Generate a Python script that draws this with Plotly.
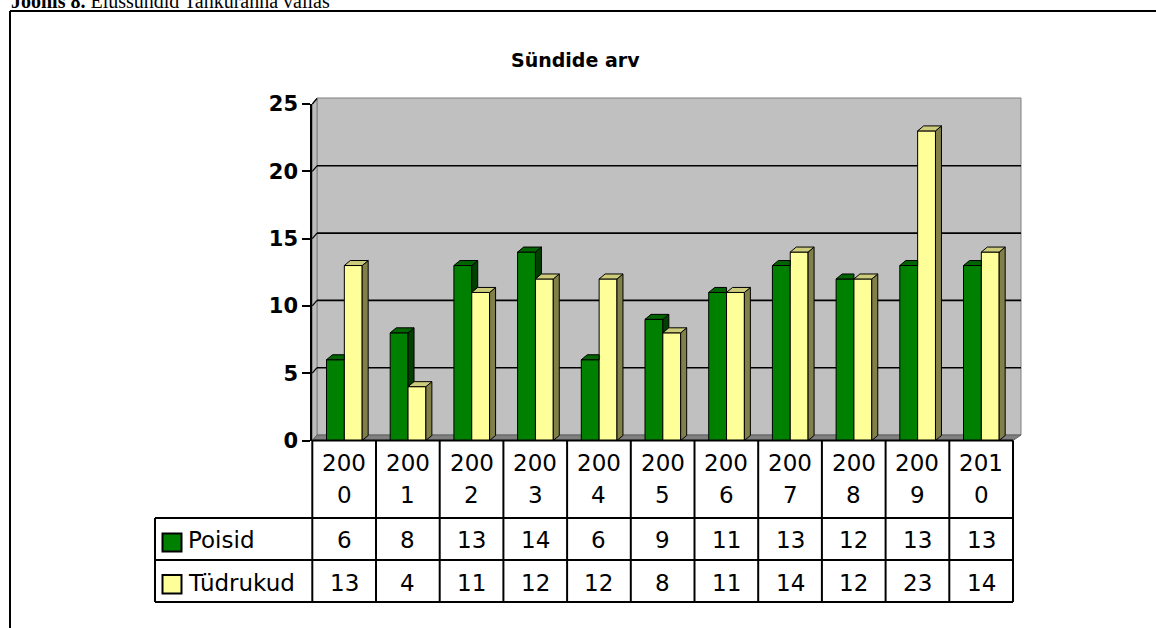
import plotly.graph_objects as go

# ---------------- data ----------------
years = ["2000", "2001", "2002", "2003", "2004", "2005", "2006", "2007", "2008", "2009", "2010"]
poisid = [6, 8, 13, 14, 6, 9, 11, 13, 12, 13, 13]
tudrukud = [13, 4, 11, 12, 12, 8, 11, 14, 12, 23, 14]
series_names = ["Poisid", "Tüdrukud"]
y_ticks = [0, 5, 10, 15, 20, 25]
chart_title = "Sündide arv"
caption_bold = "Joonis 8."
caption_rest = "Elussündid Tahkuranna vallas"

# ---------------- geometry (pixels) ----------------
W, H = 1156, 628
X0, X1 = 312.3, 1013.0          # front plane of category axis
Y0, Y1 = 440.5, 104.0           # pixel y of value 0 and value 25
YMAX = 25
n = len(years)
CW = (X1 - X0) / n
WALL_DX, WALL_DY = 4.7, 5.5      # back-wall offset
TABLE_LEFT = 155
ROW1, ROW2, ROW3 = 518, 560, 602

FONT = "DejaVu Sans"


def px(x):
    return x / W


def py(y):
    return 1 - y / H


def vpy(v):
    return Y0 + (Y1 - Y0) * v / YMAX


# bar layout in category units
BW = 0.28
G_OFF = -0.277
Y_OFF = G_OFF + BW
DX = 6 / CW
DY = 5 / ((Y0 - Y1) / YMAX)

C_GREEN, C_GREEN_TOP, C_GREEN_SIDE = "#008000", "#006400", "#004000"
C_YEL, C_YEL_TOP, C_YEL_SIDE = "#FFFF99", "#CCCC7A", "#808048"

fig = go.Figure()
xs = list(range(n))

fig.add_trace(go.Bar(x=xs, y=poisid, offset=G_OFF, width=BW, name=series_names[0],
                     marker=dict(color=C_GREEN, line=dict(color="black", width=1)),
                     showlegend=False, hoverinfo="skip"))
fig.add_trace(go.Bar(x=xs, y=tudrukud, offset=Y_OFF, width=BW, name=series_names[1],
                     marker=dict(color=C_YEL, line=dict(color="black", width=1)),
                     showlegend=False, hoverinfo="skip"))


def poly_trace(polys, color):
    px_, py_ = [], []
    for p in polys:
        for (a, b) in p:
            px_.append(a)
            py_.append(b)
        px_.append(p[0][0])
        py_.append(p[0][1])
        px_.append(None)
        py_.append(None)
    return go.Scatter(x=px_, y=py_, mode="lines", fill="toself", fillcolor=color,
                      line=dict(color="black", width=1), showlegend=False,
                      hoverinfo="skip", connectgaps=False)


g_top, g_side, y_top, y_side = [], [], [], []
for i in range(n):
    gv, yv = poisid[i], tudrukud[i]
    a = i + G_OFF
    b = a + BW
    c = b + BW
    if yv >= gv:
        g_top.append([(a, gv), (a + DX, gv + DY), (b, gv + DY), (b, gv)])
    else:
        g_top.append([(a, gv), (a + DX, gv + DY), (b + DX, gv + DY), (b, gv)])
        g_side.append([(b, yv), (b + DX, yv + DY), (b + DX, gv + DY), (b, gv)])
    y_top.append([(b, yv), (b + DX, yv + DY), (c + DX, yv + DY), (c, yv)])
    y_side.append([(c, 0), (c + DX, DY), (c + DX, yv + DY), (c, yv)])

fig.add_trace(poly_trace(g_side, C_GREEN_SIDE))
fig.add_trace(poly_trace(g_top, C_GREEN_TOP))
fig.add_trace(poly_trace(y_side, C_YEL_SIDE))
fig.add_trace(poly_trace(y_top, C_YEL_TOP))

shapes = []


def line(x0, y0, x1, y1, color="black", width=2, layer="above"):
    shapes.append(dict(type="line", xref="paper", yref="paper", x0=px(x0), y0=py(y0),
                       x1=px(x1), y1=py(y1), line=dict(color=color, width=width), layer=layer))


def path(pts, fill, color="#808080", width=1, layer="below"):
    d = "M " + " L ".join(f"{px(a):.5f},{py(b):.5f}" for a, b in pts) + " Z"
    shapes.append(dict(type="path", xref="paper", yref="paper", path=d, fillcolor=fill,
                       line=dict(color=color, width=width), layer=layer))


# back wall, left side wall, floor
WX0, WX1 = X0 + WALL_DX, 1021.0
WY_TOP, WY_BOT = Y1 - 6, Y0 - WALL_DY
path([(WX0, WY_TOP), (WX1, WY_TOP), (WX1, WY_BOT), (WX0, WY_BOT)], "#C0C0C0")
path([(X0, Y1), (WX0, WY_TOP), (WX0, WY_BOT), (X0, Y0)], "#BDBDBD")
path([(X0, Y0), (WX0, WY_BOT), (WX1, WY_BOT), (X1, Y0)], "#808080", color="#606060")

# gridlines on back wall + diagonal tick connectors
for v in y_ticks[1:-1]:
    yf = vpy(v)
    line(WX0, yf - WALL_DY, WX1, yf - WALL_DY, width=1.6, layer="below")
for v in y_ticks[1:]:
    yf = vpy(v)
    line(X0, yf, WX0, yf - WALL_DY, width=1.2, layer="below")

# data table
line(X0, Y0, X1, Y0)
for k in range(n + 1):
    line(X0 + k * CW, Y0, X0 + k * CW, ROW3)
line(TABLE_LEFT, ROW1, TABLE_LEFT, ROW3)
for r in (ROW1, ROW2, ROW3):
    line(TABLE_LEFT, r, X1, r)

# legend keys inside table
shapes.append(dict(type="rect", xref="paper", yref="paper", x0=px(162.5), x1=px(181.5),
                   y0=py(551.5), y1=py(533.5), fillcolor=C_GREEN,
                   line=dict(color="black", width=2), layer="above"))
shapes.append(dict(type="rect", xref="paper", yref="paper", x0=px(162.5), x1=px(181.5),
                   y0=py(593.5), y1=py(575), fillcolor=C_YEL,
                   line=dict(color="black", width=2), layer="above"))

# outer frame
line(10, 11, W + 5, 11)
line(10, 11, 10, H + 5)

annotations = []


def text(x, y, s, size=23, bold=False, xanchor="center", family=FONT):
    annotations.append(dict(xref="paper", yref="paper", x=px(x), y=py(y), text=s,
                            showarrow=False, xanchor=xanchor, yanchor="middle",
                            font=dict(family=family, size=size, color="black",
                                      weight="bold" if bold else "normal")))


for i, yr in enumerate(years):
    cx = X0 + (i + 0.5) * CW
    text(cx, 462.5, yr[:3])
    text(cx, 495, yr[3:])
    text(cx, 540, str(poisid[i]))
    text(cx, 583, str(tudrukud[i]))

text(186, 540, series_names[0], xanchor="left")
text(186, 583, series_names[1], xanchor="left")

text(575.5, 60, chart_title, size=19, bold=True)

annotations.append(dict(xref="paper", yref="paper", x=px(9), y=py(1.5), xanchor="left",
                        yanchor="middle", showarrow=False,
                        text=f"<b>{caption_bold}</b> {caption_rest}",
                        font=dict(family="Liberation Serif", size=20, color="black")))

fig.update_layout(
    width=W, height=H,
    margin=dict(l=0, r=0, t=0, b=0, autoexpand=False),
    paper_bgcolor="white", plot_bgcolor="rgba(0,0,0,0)",
    barmode="overlay", bargap=0,
    shapes=shapes, annotations=annotations,
    showlegend=False,
    xaxis=dict(domain=[px(X0), px(X1)], range=[-0.5, n - 0.5], visible=False,
               fixedrange=True),
    yaxis=dict(domain=[py(Y0), py(Y1)], range=[0, YMAX], tickvals=y_ticks,
               ticks="outside", ticklen=8, tickwidth=2, tickcolor="black",
               showline=True, linewidth=2, linecolor="black", showgrid=False,
               zeroline=False, fixedrange=True, automargin=False,
               tickfont=dict(family=FONT, size=21, color="black", weight="bold")),
)

fig.write_html("out.html", config={"displayModeBar": False, "staticPlot": True},
               post_script="document.body.style.margin='0';")
